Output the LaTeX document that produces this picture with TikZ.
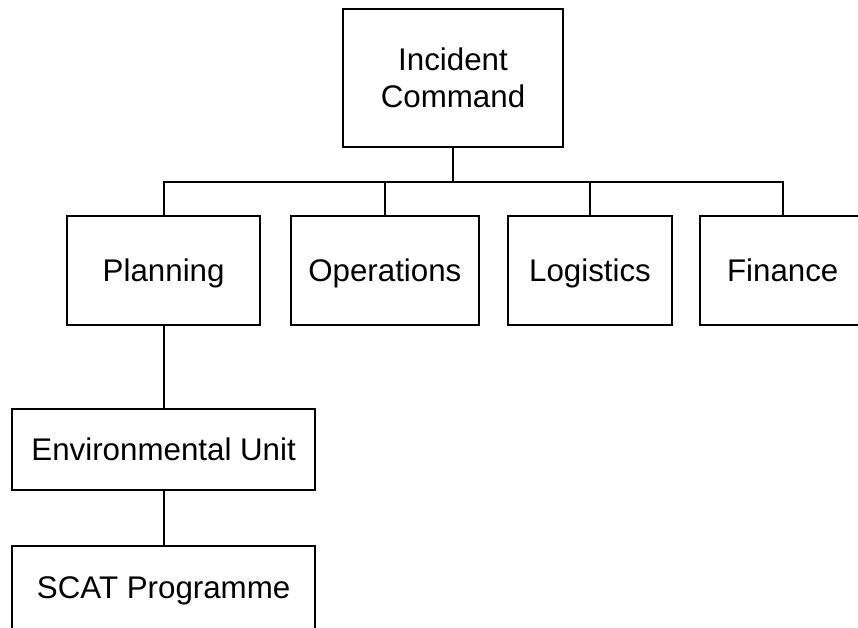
\documentclass[tikz,border=0pt]{standalone}
\usepackage{fontspec}
\setmainfont{Liberation Sans}
\begin{document}
\begin{tikzpicture}[x=1pt,y=-1pt,
  orgbox/.style={draw=black, line width=1.7pt, rectangle, inner sep=0pt, outer sep=0pt,
    align=center, font=\fontsize{31.3}{37}\selectfont},
  unitbox/.style={orgbox, text height=21.5pt, text depth=0pt},
  link/.style={draw=black, line width=1.7pt}]
  \useasboundingbox (0,0) rectangle (858,627);
  \fill[white] (0,0) rectangle (858,627);
  \clip (0,0) rectangle (858,627);

  % command level
  \node[orgbox, minimum width=220.6pt, minimum height=138pt] (ic) at (453,78) {Incident\\Command};

  % sections
  \node[unitbox, minimum width=192.7pt, minimum height=109.3pt] (plan) at (163.65,270.35) {Planning};
  \node[unitbox, minimum width=188.3pt, minimum height=109.3pt] (ops)  at (384.85,270.35) {Operations};
  \node[unitbox, minimum width=164.6pt, minimum height=109.3pt] (log)  at (590,270.35) {Logistics};
  \node[unitbox, minimum width=165.4pt, minimum height=109.3pt] (fin)  at (782.7,270.35) {Finance};

  % planning sub-units
  \node[unitbox, minimum width=302.7pt, minimum height=81pt]   (env)  at (163.65,449.5) {Environmental Unit};
  \node[unitbox, minimum width=302.7pt, minimum height=83.3pt] (scat) at (163.65,587.35) {SCAT Programme};

  % connectors
  \coordinate (bus) at (453,181.7);
  \draw[link] (ic.south) -- (bus);
  \draw[link] (plan.north) |- (bus) -| (fin.north);
  \draw[link] (ops.north) -- (ops.north |- bus);
  \draw[link] (log.north) -- (log.north |- bus);
  \draw[link] (plan.south) -- (env.north);
  \draw[link] (env.south) -- (scat.north);
\end{tikzpicture}
\end{document}
